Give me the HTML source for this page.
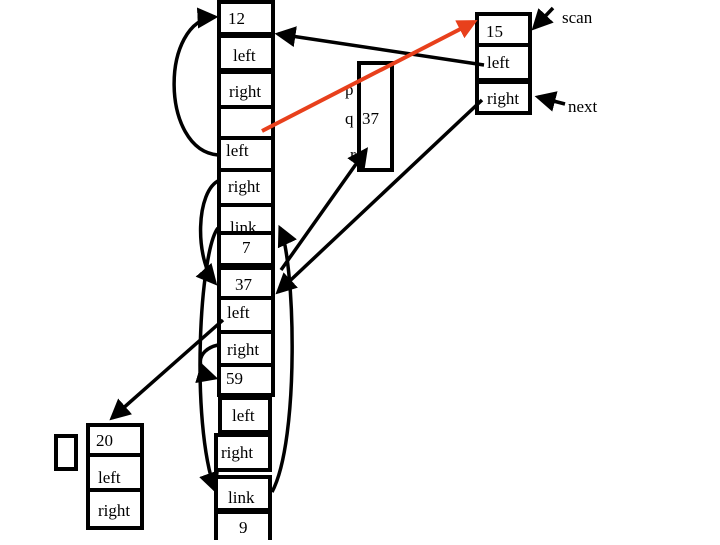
<!DOCTYPE html>
<html><head><style>
body{margin:0;background:#fff}
svg text{font-family:"Liberation Serif",serif;font-size:17px;fill:#000}
</style></head><body>
<svg width="720" height="540" viewBox="0 0 720 540" xmlns="http://www.w3.org/2000/svg">
<defs>
<marker id="a" markerWidth="6" markerHeight="6" refX="5" refY="3" orient="auto" markerUnits="strokeWidth"><path d="M0,0 L6,3 L0,6z" fill="#000"/></marker>
<marker id="r" markerWidth="5" markerHeight="5" refX="4" refY="2.5" orient="auto" markerUnits="strokeWidth"><path d="M0,0 L5,2.5 L0,5z" fill="#e8401c"/></marker>
</defs>
<g fill="#fff" stroke="#000" stroke-width="4">
<rect x="219" y="2" width="54" height="32"/>
<rect x="219" y="36" width="54" height="34"/>
<rect x="219" y="72" width="54" height="35"/>
<rect x="219" y="107" width="54" height="31"/>
<rect x="219" y="138" width="54" height="32"/>
<rect x="219" y="170" width="54" height="35"/>
<rect x="219" y="205" width="54" height="28"/>
<rect x="219" y="233" width="54" height="32"/>
<rect x="219" y="268" width="54" height="30"/>
<rect x="219" y="298" width="54" height="34"/>
<rect x="219" y="332" width="54" height="33"/>
<rect x="219" y="365" width="54" height="30"/>
<rect x="220" y="398" width="50" height="34"/>
<rect x="216" y="435" width="54" height="35"/>
<rect x="216" y="477" width="54" height="33"/>
<rect x="216" y="512" width="54" height="30"/>
<rect x="477" y="14" width="53" height="31"/>
<rect x="477" y="45" width="53" height="35"/>
<rect x="477" y="82" width="53" height="31"/>
<rect x="359" y="63" width="33" height="107"/>
<rect x="88" y="425" width="54" height="30"/>
<rect x="88" y="455" width="54" height="35"/>
<rect x="88" y="490" width="54" height="38"/>
<rect x="56" y="436" width="20" height="33"/>
</g>
<g>
<text x="228" y="24">12</text><text x="233" y="61">left</text><text x="229" y="97">right</text>
<text x="226" y="156">left</text><text x="228" y="192">right</text>
<text x="230" y="233">link</text><text x="242" y="253">7</text>
<text x="235" y="290">37</text><text x="227" y="318">left</text><text x="227" y="355">right</text>
<text x="226" y="384">59</text><text x="232" y="421">left</text><text x="221" y="458">right</text>
<text x="228" y="503">link</text><text x="239" y="533">9</text>
<text x="486" y="37">15</text><text x="487" y="68">left</text><text x="487" y="104">right</text>
<text x="562" y="23">scan</text><text x="568" y="112">next</text>
<text x="345" y="95">p</text><text x="345" y="124">q</text><text x="362" y="124">37</text><text x="350" y="160">r</text>
<text x="96" y="446">20</text><text x="98" y="483">left</text><text x="98" y="516">right</text>
</g>
<g fill="none" stroke="#000" stroke-width="3.5">
<path d="M218,155 C160,150 160,20 215,17" marker-end="url(#a)"/>
<path d="M484,65 L278,34" marker-end="url(#a)"/>
<path d="M553,8 L534,28" marker-end="url(#a)"/>
<path d="M565,104 L538,97" marker-end="url(#a)"/>
<path d="M220,180 C195,190 195,260 215,283" marker-end="url(#a)"/>
<path d="M218,228 C200,250 190,420 215,490" marker-end="url(#a)"/>
<path d="M272,492 C300,440 295,260 280,228" marker-end="url(#a)"/>
<path d="M281,270 L366,150" marker-end="url(#a)"/>
<path d="M482,100 L278,292" marker-end="url(#a)"/>
<path d="M223,320 L112,418" marker-end="url(#a)"/>
<path d="M218,345 C195,350 195,372 215,378" marker-end="url(#a)"/>
</g>
<path d="M262,131 L474,22" stroke="#e8401c" stroke-width="4" fill="none" marker-end="url(#r)"/>
</svg>
</body></html>
